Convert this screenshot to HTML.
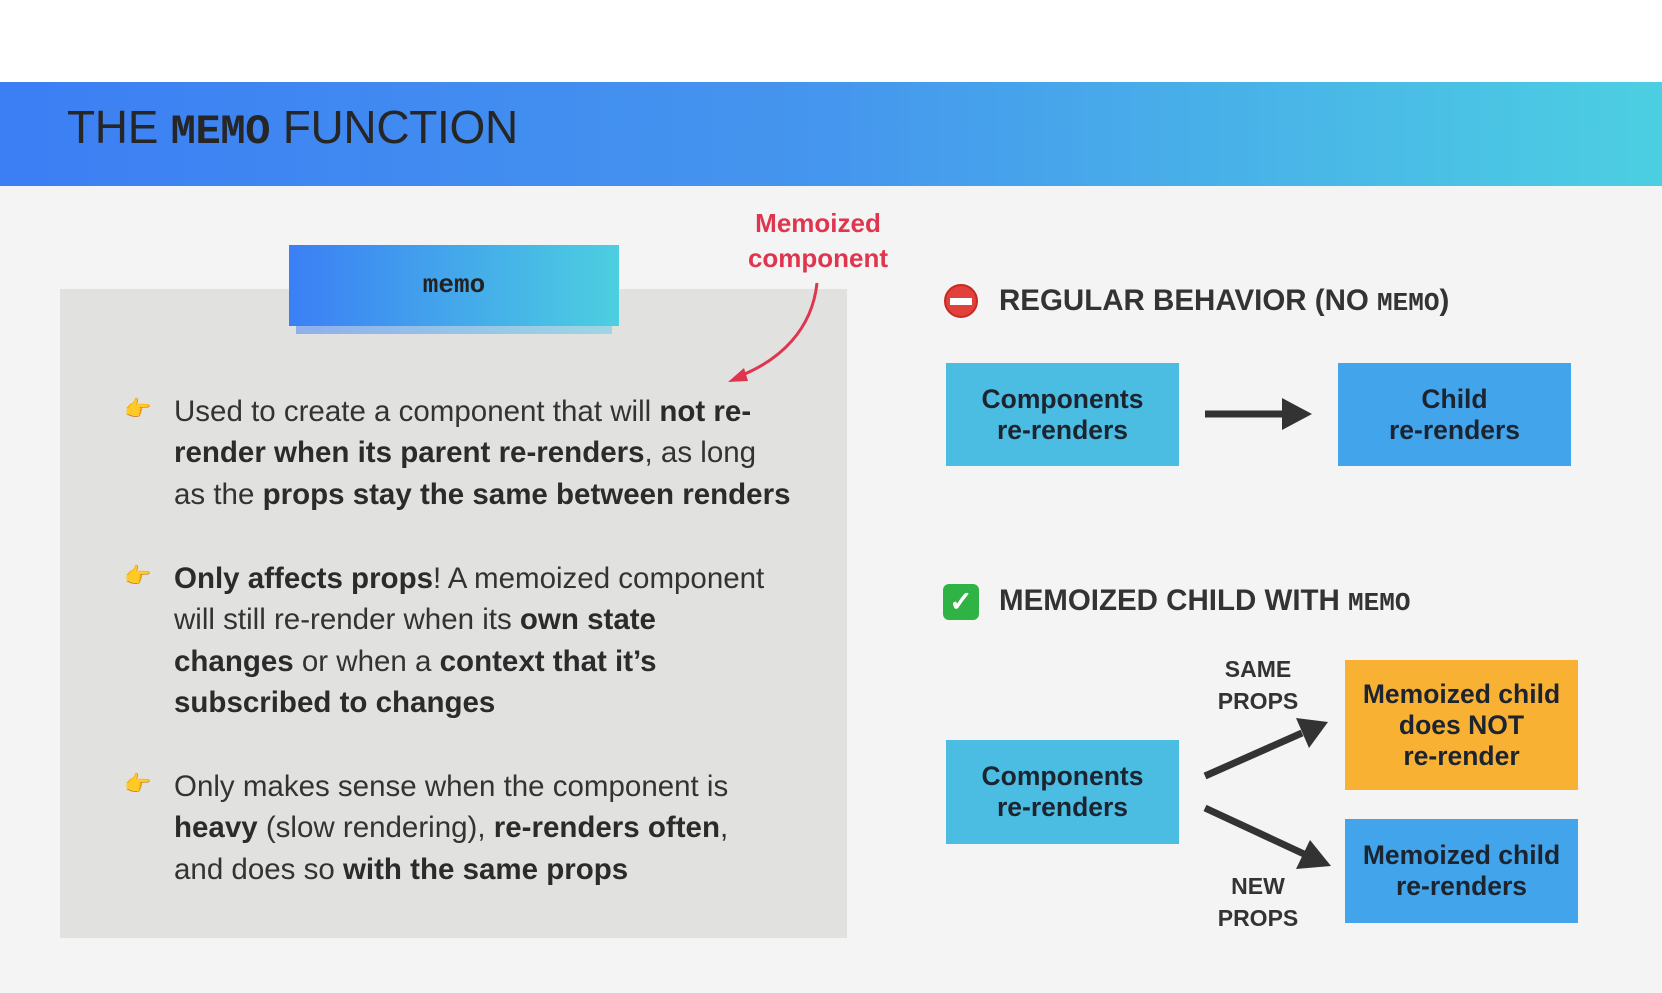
<!DOCTYPE html>
<html><head><meta charset="utf-8"><style>
*{margin:0;padding:0;box-sizing:border-box}
body{width:1662px;height:993px;background:#f4f4f4;position:relative;overflow:hidden;font-family:"Liberation Sans",sans-serif;color:#333}
.abs{position:absolute}
.hdr{left:0;top:82px;width:1662px;height:104px;background:linear-gradient(90deg,#3c7ef4 0%,#4596ee 50%,#4ccfe2 100%)}
.title{left:67px;top:100px;font-size:46px;color:#262626;white-space:nowrap;letter-spacing:-0.3px}
.mono{font-family:"Liberation Mono",monospace;font-weight:bold}
.panel{left:60px;top:289px;width:787px;height:649px;background:#e1e1df}
.memo{left:289px;top:245px;width:330px;height:81px;background:linear-gradient(90deg,#3b7ff5,#4ccfe0);text-align:center;line-height:81px;font-size:26px;color:#222}
.memosh{left:296px;top:326px;width:316px;height:8px;background:linear-gradient(90deg,#8fb0ec,#9dd6e4)}
.red{left:718px;top:206px;width:200px;text-align:center;color:#e0354f;font-weight:bold;font-size:26px;line-height:35px}
.bl{left:174px;font-size:29.5px;line-height:41.3px;white-space:nowrap;color:#333}
.bl b{color:#2b2b2b}
.hand{font-size:22px;left:124px}
.h2{font-size:29.5px;font-weight:bold;color:#333;white-space:nowrap}
.box{display:flex;align-items:center;justify-content:center;text-align:center;font-weight:bold;font-size:26.5px;line-height:31px;color:#1c2430}
.lb{font-weight:bold;font-size:23px;line-height:32px;text-align:center;color:#333;width:140px}
</style></head><body>
<div class="abs" style="left:0;top:0;width:1662px;height:82px;background:#fff"></div>
<div class="abs hdr"></div>
<div class="abs title">THE <span class="mono" style="font-size:42px">MEMO</span> FUNCTION</div>
<div class="abs panel"></div>
<div class="abs memosh"></div>
<div class="abs memo mono">memo</div>
<div class="abs red">Memoized<br>component</div>
<svg class="abs" style="left:0;top:0" width="1662" height="993">
<path d="M817 283 C812 330 780 360 740 376" fill="none" stroke="#e0354f" stroke-width="3"/>
<polygon points="728,382 744,368 748,381" fill="#e0354f"/>
<line x1="1205" y1="414" x2="1285" y2="414" stroke="#333" stroke-width="7"/>
<polygon points="1312,414 1282,398 1282,430" fill="#333"/>
<line x1="1205" y1="776" x2="1302" y2="733" stroke="#333" stroke-width="7"/>
<polygon points="1328,722 1296,718 1309,748" fill="#333"/>
<line x1="1205" y1="808" x2="1304" y2="854" stroke="#333" stroke-width="7"/>
<polygon points="1331,866 1310,840 1296,869" fill="#333"/>
</svg>
<div class="abs hand" style="top:396px">👉</div>
<div class="abs bl" style="top:391px">Used to create a component that will <b>not re-</b><br><b>render when its parent re-renders</b>, as long<br>as the <b>props stay the same between renders</b></div>
<div class="abs hand" style="top:563px">👉</div>
<div class="abs bl" style="top:558px"><b>Only affects props</b>! A memoized component<br>will still re-render when its <b>own state</b><br><b>changes</b> or when a <b>context that it’s</b><br><b>subscribed to changes</b></div>
<div class="abs hand" style="top:771px">👉</div>
<div class="abs bl" style="top:766px">Only makes sense when the component is<br><b>heavy</b> (slow rendering), <b>re-renders often</b>,<br>and does so <b>with the same props</b></div>
<div class="abs" style="left:944px;top:284px;width:34px;height:34px;border-radius:50%;background:#e2403a;border:2px solid #c62a24"><div style="position:absolute;left:4px;top:12px;width:22px;height:7px;background:#fff"></div></div>
<div class="abs h2" style="left:999px;top:284px">REGULAR BEHAVIOR (NO <span class="mono" style="font-size:26px">MEMO</span>)</div>
<div class="abs box" style="left:946px;top:363px;width:233px;height:103px;background:#4bbde3">Components<br>re-renders</div>
<div class="abs box" style="left:1338px;top:363px;width:233px;height:103px;background:#42a4ea">Child<br>re-renders</div>
<div class="abs" style="left:943px;top:584px;width:36px;height:36px;border-radius:6px;background:#2fb344;color:#fff;font-size:28px;line-height:36px;text-align:center;font-weight:bold">✓</div>
<div class="abs h2" style="left:999px;top:584px">MEMOIZED CHILD WITH <span class="mono" style="font-size:26px">MEMO</span></div>
<div class="abs box" style="left:946px;top:740px;width:233px;height:104px;background:#4bbde3">Components<br>re-renders</div>
<div class="abs box" style="left:1345px;top:660px;width:233px;height:130px;background:#f9b133">Memoized child<br>does NOT<br>re-render</div>
<div class="abs box" style="left:1345px;top:819px;width:233px;height:104px;background:#42a4ea">Memoized child<br>re-renders</div>
<div class="abs lb" style="left:1188px;top:653px">SAME<br>PROPS</div>
<div class="abs lb" style="left:1188px;top:870px">NEW<br>PROPS</div>
</body></html>
